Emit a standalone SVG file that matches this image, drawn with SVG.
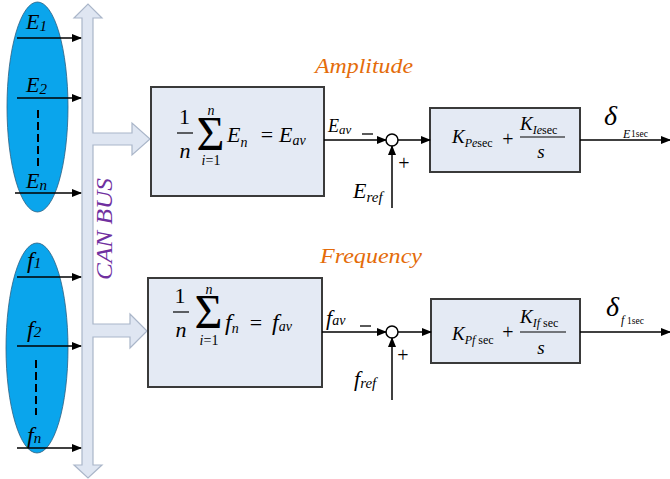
<svg xmlns="http://www.w3.org/2000/svg" width="670" height="479" viewBox="0 0 670 479">
<defs>
<marker id="ah" markerWidth="10" markerHeight="8" refX="9" refY="4" orient="auto" markerUnits="userSpaceOnUse">
<path d="M0,0 L10,4 L0,8 Z" fill="#000"/>
</marker>
<style>
.m{font-family:"Liberation Serif","Times New Roman",serif;font-style:italic;fill:#000}
.r{font-family:"Liberation Serif","Times New Roman",serif;fill:#000}
.ln{stroke:#000;stroke-width:1.5;fill:none}
.box{fill:#e4eaf4;stroke:#3a3a3a;stroke-width:2}
.bus{fill:#dfe6f2;stroke:#aab6c9;stroke-width:1.2}
.ell{fill:#0aa5ec;stroke:#2f5f80;stroke-width:0.8}
.dash{stroke:#000;stroke-width:2;stroke-dasharray:8,4}
.lbl{font-family:"Liberation Serif","Times New Roman",serif;font-style:italic;font-size:22px}
</style>
</defs>
<rect width="670" height="479" fill="#fff"/>

<g id="can-bus">
<path class="bus" d="M82,18 L74,18 L88,4 L102,18 L93,18 L93,133 L132,133 L132,123 L150,139 L132,155 L132,145 L93,145 L93,324 L130,324 L130,314 L147,331 L130,348 L130,337 L93,337 L93,465 L102,465 L88,478 L74,465 L82,465 Z"/>
<text transform="translate(112,229) rotate(-90)" text-anchor="middle" class="lbl" style="font-size:24px;fill:#7030a0" textLength="102" lengthAdjust="spacingAndGlyphs">CAN BUS</text>
</g>

<g id="amp-sensors">
<ellipse class="ell" cx="37.5" cy="107" rx="30.5" ry="105"/>
<text class="m" x="26" y="29" font-size="22">E<tspan font-size="15" dy="2">1</tspan></text>
<text class="m" x="26" y="92" font-size="22">E<tspan font-size="15" dy="2">2</tspan></text>
<text class="m" x="26" y="188" font-size="22">E<tspan font-size="15" dy="2">n</tspan></text>
<line class="dash" x1="38" y1="110" x2="38" y2="167"/>
</g>

<g id="freq-sensors">
<ellipse class="ell" cx="37" cy="348" rx="31" ry="105"/>
<text class="m" x="27" y="268" font-size="24">f<tspan font-size="15">1</tspan></text>
<text class="m" x="27" y="337" font-size="24">f<tspan font-size="15">2</tspan></text>
<text class="m" x="27" y="443" font-size="24">f<tspan font-size="15">n</tspan></text>
<line class="dash" x1="36" y1="360" x2="36" y2="415"/>
</g>

<g id="avg-E">
<rect class="box" x="151" y="87" width="173" height="109"/>
<text class="r" x="184.5" y="124" font-size="22" text-anchor="middle">1</text>
<line x1="177" y1="133" x2="193" y2="133" stroke="#000" stroke-width="1.2"/>
<text class="m" x="185" y="158" font-size="22" text-anchor="middle">n</text>
<text class="r" x="210.5" y="150" font-size="48" text-anchor="middle">Σ</text>
<text class="m" x="211" y="115" font-size="14" text-anchor="middle">n</text>
<text x="211" y="165" font-size="14" text-anchor="middle" class="r"><tspan font-style="italic">i</tspan>=1</text>
<text class="m" x="227" y="142" font-size="22">E<tspan font-size="14" dy="5">n</tspan></text>
<text class="r" x="267" y="142" font-size="22" text-anchor="middle">=</text>
<text class="m" x="279" y="142" font-size="22">E<tspan font-size="14" dy="3">av</tspan></text>
</g>

<g id="avg-f">
<rect class="box" x="148" y="278" width="174" height="109"/>
<text class="r" x="180" y="303" font-size="22" text-anchor="middle">1</text>
<line x1="173" y1="312" x2="189" y2="312" stroke="#000" stroke-width="1.2"/>
<text class="m" x="181" y="337" font-size="22" text-anchor="middle">n</text>
<text class="r" x="208.5" y="328" font-size="48" text-anchor="middle">Σ</text>
<text class="m" x="209" y="294" font-size="14" text-anchor="middle">n</text>
<text x="209" y="345" font-size="14" text-anchor="middle" class="r"><tspan font-style="italic">i</tspan>=1</text>
<text class="m" x="225" y="330" font-size="24">f<tspan font-size="14" dy="3">n</tspan></text>
<text class="r" x="256" y="330" font-size="22" text-anchor="middle">=</text>
<text class="m" x="272" y="330" font-size="24">f<tspan font-size="14" dy="1">av</tspan></text>
</g>

<g id="sum-E">
<circle cx="392" cy="140" r="6" fill="#fff" stroke="#000" stroke-width="1.5"/>
<text class="r" x="404" y="170" font-size="20" text-anchor="middle">+</text>
</g>
<g id="sum-f">
<circle cx="392" cy="332" r="6" fill="#fff" stroke="#000" stroke-width="1.5"/>
<text class="r" x="403" y="362" font-size="20" text-anchor="middle">+</text>
</g>

<g id="pi-E">
<rect class="box" x="430" y="108" width="150" height="64"/>
<text class="m" x="452" y="143" font-size="19">K<tspan font-size="12" dy="4">Pe</tspan><tspan font-size="12" font-style="normal">sec</tspan></text>
<text class="r" x="508" y="146" font-size="20" text-anchor="middle">+</text>
<text class="m" x="520" y="130" font-size="19">K<tspan font-size="12" dy="4">Ie</tspan><tspan font-size="12" font-style="normal">sec</tspan></text>
<line x1="520" y1="137" x2="565" y2="137" stroke="#000" stroke-width="1"/>
<text class="m" x="541" y="158" font-size="19" text-anchor="middle">s</text>
</g>

<g id="pi-f">
<rect class="box" x="431" y="299" width="149" height="64"/>
<text class="m" x="452" y="340" font-size="19">K<tspan font-size="12" dy="4">Pf </tspan><tspan font-size="12" font-style="normal">sec</tspan></text>
<text class="r" x="508" y="339" font-size="20" text-anchor="middle">+</text>
<text class="m" x="520" y="323" font-size="19">K<tspan font-size="12" dy="4">If </tspan><tspan font-size="12" font-style="normal">sec</tspan></text>
<line x1="520" y1="332" x2="566" y2="332" stroke="#000" stroke-width="1"/>
<text class="m" x="541" y="354" font-size="19" text-anchor="middle">s</text>
</g>

<g id="labels">
<text x="315" y="73" class="lbl" style="fill:#e46c0a" textLength="98" lengthAdjust="spacingAndGlyphs">Amplitude</text>
<text x="320" y="263" class="lbl" style="fill:#e46c0a" textLength="102" lengthAdjust="spacingAndGlyphs">Frequency</text>
<text class="m" x="328" y="132" font-size="18">E<tspan font-size="13" dy="2">av</tspan></text>
<line x1="362" y1="134" x2="373" y2="134" stroke="#000" stroke-width="1.3"/>
<text class="m" x="353" y="198" font-size="22">E<tspan font-size="15" dy="4">ref</tspan></text>
<text class="m" x="326" y="325" font-size="22">f<tspan font-size="14">av</tspan></text>
<line x1="360" y1="326" x2="371" y2="326" stroke="#000" stroke-width="1.3"/>
<text class="m" x="354" y="386" font-size="22">f<tspan font-size="15" dy="2">ref</tspan></text>
<text class="m" x="604" y="125" font-size="28">δ</text>
<text class="m" x="623" y="138" font-size="12">E</text>
<text class="r" x="631" y="137" font-size="9.5">1sec</text>
<text class="m" x="606" y="316" font-size="28">δ</text>
<text class="m" x="621" y="324" font-size="12">f</text>
<text class="r" x="627" y="324" font-size="9.5">1sec</text>
</g>

<g id="connectors">
<line class="ln" x1="17" y1="38" x2="81" y2="38" marker-end="url(#ah)"/>
<line class="ln" x1="17" y1="98" x2="81" y2="98" marker-end="url(#ah)"/>
<line class="ln" x1="15" y1="193" x2="81" y2="193" marker-end="url(#ah)"/>
<line class="ln" x1="17" y1="277" x2="81" y2="277" marker-end="url(#ah)"/>
<line class="ln" x1="17" y1="346" x2="81" y2="346" marker-end="url(#ah)"/>
<line class="ln" x1="17" y1="448" x2="81" y2="448" marker-end="url(#ah)"/>
<line class="ln" x1="324" y1="140" x2="386" y2="140" marker-end="url(#ah)"/>
<line class="ln" x1="392" y1="208" x2="392" y2="146" marker-end="url(#ah)"/>
<line class="ln" x1="398" y1="140" x2="430" y2="140" marker-end="url(#ah)"/>
<line class="ln" x1="580" y1="140" x2="670" y2="140" marker-end="url(#ah)"/>
<line class="ln" x1="322" y1="332" x2="386" y2="332" marker-end="url(#ah)"/>
<line class="ln" x1="392" y1="400" x2="392" y2="338" marker-end="url(#ah)"/>
<line class="ln" x1="398" y1="332" x2="431" y2="332" marker-end="url(#ah)"/>
<line class="ln" x1="580" y1="332" x2="670" y2="332" marker-end="url(#ah)"/>
</g>
</svg>
